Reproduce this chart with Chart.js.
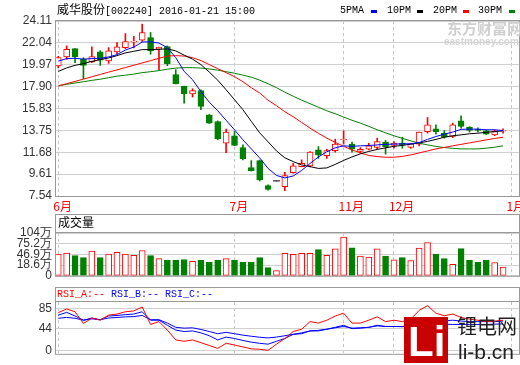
<!DOCTYPE html>
<html>
<head>
<meta charset="utf-8">
<script src="https://cdn.jsdelivr.net/npm/chart.js@4.4.0/dist/chart.umd.min.js"></script>
<style>
  body { margin: 0; background: #fff; width: 520px; height: 365px; position: relative; overflow: hidden; }
  canvas { position: absolute; left: 0; }
  .t { position: absolute; white-space: pre; line-height: 14px; }
  .mono { font-family: "Liberation Mono", monospace; font-size: 10px; }
  .cjk { font-family: "Noto Sans CJK SC", sans-serif; }
  .sw { position: absolute; width: 6px; height: 3px; top: 10px; }
</style>
</head>
<body>
<canvas id="main" width="520" height="212" style="top:0"></canvas>
<canvas id="vol" width="520" height="73" style="top:214px"></canvas>
<canvas id="rsi" width="520" height="78" style="top:287px"></canvas>

<!-- 标题和图例 -->
<div class="t" style="left:57px;top:2px;color:#000"><span class="cjk" style="font-size:12px">威华股份</span><span class="mono">[002240] 2016-01-21 15:00</span></div>
<div class="t mono" style="left:340px;top:4px">5PMA</div><div class="sw" style="left:371px;background:#0000ff"></div>
<div class="t mono" style="left:387px;top:4px">10PM</div><div class="sw" style="left:417px;background:#000"></div>
<div class="t mono" style="left:433px;top:4px">20PM</div><div class="sw" style="left:463px;background:#ff0000"></div>
<div class="t mono" style="left:478px;top:4px">30PM</div><div class="sw" style="left:509px;background:#008000"></div>

<!-- 水印 -->
<div class="t cjk" style="left:447px;top:21px;font-size:15px;font-weight:bold;color:#cfcfcf">东方财富网</div>
<div class="t" style="left:444px;top:35px;font-family:'Liberation Sans';font-size:10px;font-weight:bold;color:#d4d4d4">eastmoney.com</div>

<div class="t cjk" style="left:58px;top:215px;font-size:12px;color:#000">成交量</div>
<div class="t mono" style="left:57px;top:288px"><span style="color:#ff0000">RSI_A:--</span> <span style="color:#0000ff">RSI_B:--</span> <span style="color:#0000ff">RSI_C:--</span></div>

<div style="position:absolute;left:404px;top:317px;width:44px;height:46px;background:#c80000"></div>
<div class="t" style="left:408px;top:322px;line-height:40px;font-family:'Liberation Sans';font-size:42px;font-weight:bold;color:#fff">Li</div>
<div class="t cjk" style="left:457px;top:314px;line-height:24px;font-size:20px;color:#222">锂电网</div>
<div class="t" style="left:458px;top:340px;line-height:24px;font-family:'Liberation Sans';font-size:21px;color:#222">li-b.cn</div>

<script>
// 月份分界（K线序号）
const monthIdx = [0, 21, 34, 40, 54];
const monthLabels = ['6月', '7月', '11月', '12月', '1月'];

const priceTicks = [7.54, 9.61, 11.68, 13.75, 15.83, 17.90, 19.97, 22.04, 24.11];
// 成交量刻度：底部刻度标为 0
const volTicks = [-9.7, 18.6, 46.9, 75.2, 103.5];
const volTickLabels = ['0', '18.6万', '46.9万', '75.2万', '104万'];
const rsiTicks = [0, 44, 85];

// K线
const openP  = [19.86, 20.71, 21.50, 20.48, 20.26, 21.19, 20.33, 21.19, 21.59, 22.10,
                22.29, 22.54, 21.47, 21.69, 19.03, 17.92, 17.20, 17.51, 15.23, 14.59,
                12.54, 13.24, 12.13, 10.23, 10.89, 8.52, 8.97, 8.42, 9.75, 10.32,
                10.39, 11.91, 11.37, 11.84, 12.86, 12.45, 11.75, 11.97, 12.13, 12.64,
                12.32, 12.54, 12.13, 12.45, 13.64, 13.90, 13.49, 13.17, 14.66, 14.06,
                13.87, 13.71, 13.33, 13.67];
const highP  = [20.77, 21.75, 21.50, 20.64, 21.66, 21.30, 21.59, 22.07, 22.92, 22.67,
                23.81, 23.02, 21.65, 21.75, 19.50, 17.95, 17.70, 17.60, 15.25, 14.65,
                13.87, 13.64, 12.38, 10.89, 10.95, 8.60, 8.97, 9.79, 10.64, 10.96,
                11.75, 12.22, 11.97, 12.92, 13.71, 12.64, 12.12, 12.54, 13.02, 12.80,
                12.70, 13.11, 12.50, 13.60, 14.97, 14.28, 13.74, 14.44, 15.14, 14.10,
                13.99, 13.80, 13.80, 13.90];
const lowP   = [19.67, 20.48, 20.17, 18.65, 20.17, 19.91, 20.10, 21.02, 21.50, 21.56,
                22.16, 20.96, 19.50, 19.88, 18.15, 16.34, 16.91, 15.71, 14.40, 12.86,
                11.65, 12.30, 10.96, 9.90, 8.96, 8.10, 8.97, 8.04, 9.70, 10.30,
                10.30, 11.10, 11.10, 11.69, 12.45, 11.69, 11.60, 11.90, 12.00, 11.50,
                12.07, 12.07, 12.05, 12.29, 13.49, 13.40, 13.02, 13.07, 13.97, 13.59,
                13.60, 13.35, 13.25, 13.49];
const closeP = [20.64, 21.43, 20.71, 19.91, 20.74, 20.39, 21.28, 21.66, 22.16, 22.20,
                23.02, 21.28, 21.62, 20.07, 18.15, 17.22, 17.51, 16.02, 14.44, 12.95,
                13.59, 12.32, 11.05, 9.94, 9.06, 8.17, 8.97, 9.47, 10.39, 10.64,
                11.69, 11.43, 11.84, 12.45, 12.92, 11.97, 11.97, 12.29, 12.70, 12.22,
                12.54, 12.38, 12.48, 13.59, 14.28, 13.64, 13.11, 14.28, 14.12, 13.74,
                13.74, 13.40, 13.64, 13.74];

// 均线
const ma5  = [20.31, 20.55, 20.58, 20.50, 20.55, 20.58, 20.71, 20.93, 21.36, 21.64,
              22.12, 22.14, 22.02, 21.59, 20.64, 19.34, 18.55, 17.42, 16.42, 15.61,
              14.71, 13.81, 12.86, 12.00, 11.15, 10.15, 9.49, 9.25, 9.44, 9.96,
              10.62, 11.24, 11.72, 12.10, 12.29, 12.24, 12.29, 12.32, 12.38, 12.43,
              12.45, 12.48, 12.48, 12.60, 12.90, 13.17, 13.40, 13.59, 13.85, 13.87,
              13.87, 13.81, 13.81, 13.74];
const ma10 = [19.34, 19.67, 19.91, 20.07, 20.29, 20.45, 20.61, 20.83, 21.09, 21.24,
              21.40, 21.40, 21.43, 21.47, 21.28, 20.88, 20.50, 19.98, 19.27, 18.51,
              17.60, 16.66, 15.71, 14.61, 13.52, 12.67, 11.81, 11.15, 10.80, 10.48,
              10.32, 10.15, 10.20, 10.53, 10.91, 11.24, 11.53, 11.76, 11.95, 12.10,
              12.24, 12.33, 12.45, 12.57, 12.71, 12.90, 13.11, 13.24, 13.33, 13.43,
              13.49, 13.57, 13.64, 13.71];
const ma20 = [17.96, 18.18, 18.39, 18.61, 18.83, 19.05, 19.27, 19.48, 19.70, 19.92,
              20.14, 20.36, 20.58, 20.79, 20.83, 20.79, 20.64, 20.36, 19.98, 19.60,
              19.22, 18.84, 18.36, 17.79, 17.29, 16.61, 16.09, 15.52, 15.04, 14.50,
              13.97, 13.47, 13.02, 12.62, 12.24, 11.91, 11.62, 11.38, 11.27, 11.21,
              11.21, 11.29, 11.43, 11.62, 11.81, 12.00, 12.14, 12.29, 12.43, 12.57,
              12.71, 12.86, 12.98, 13.11];
const ma30 = [17.98, 18.11, 18.24, 18.36, 18.49, 18.60, 18.74, 18.89, 18.98, 19.08,
              19.22, 19.31, 19.41, 19.55, 19.65, 19.69, 19.69, 19.65, 19.57, 19.46,
              19.31, 19.17, 18.98, 18.79, 18.51, 18.17, 17.80, 17.37, 16.99, 16.61,
              16.28, 15.94, 15.61, 15.33, 15.01, 14.71, 14.44, 14.14, 13.81, 13.52,
              13.24, 13.00, 12.76, 12.54, 12.38, 12.24, 12.13, 12.05, 12.00, 12.00,
              12.00, 12.07, 12.16, 12.29];

// 成交量（万手）
const volume = [47.7, 50.1, 43.7, 38.2, 55.6, 38.2, 47.7, 52.5, 47.7, 44.6,
                57.3, 43.7, 35.8, 31.7, 31.7, 33.4, 28.6, 31.7, 26.2, 31.7,
                35.8, 31.7, 26.2, 26.2, 38.2, 11.8, 3.9, 49.4, 47.0, 49.4,
                49.4, 59.7, 44.6, 61.4, 92.5, 64.5, 42.2, 39.8, 61.4, 42.2,
                32.7, 38.2, 30.3, 63.8, 78.1, 47.7, 35.8, 20.7, 62.1, 31.7,
                26.2, 31.7, 25.5, 13.5];

// RSI
const rsiA = [76.5, 83.8, 78.2, 54.3, 65.5, 61.1, 71.4, 73.6, 78.2, 79.9,
              87.8, 52.5, 58.2, 41.1, 21.1, 18.4, 21.1, 15.5, 9.8, 4.0,
              14.3, 10.8, 6.9, 3.0, 2.1, 0.0, 12.5, 24.0, 38.2, 42.8,
              58.2, 55.3, 61.1, 69.6, 75.3, 55.3, 55.3, 61.1, 67.9, 58.2,
              61.1, 58.2, 63.3, 80.9, 90.7, 75.3, 70.2, 73.6, 66.7, 63.3,
              61.1, 58.2, 59.4, 61.1];
const rsiB = [71.4, 77.0, 69.6, 61.1, 65.5, 62.1, 69.6, 70.7, 72.4, 73.6,
              78.2, 61.1, 61.1, 50.8, 41.1, 38.2, 39.4, 35.5, 29.6, 21.1,
              26.9, 24.0, 20.1, 16.6, 14.3, 12.5, 18.4, 24.0, 32.5, 33.7,
              39.4, 39.4, 42.8, 46.7, 50.8, 44.0, 45.0, 46.7, 50.8, 48.4,
              48.4, 48.4, 50.5, 54.8, 60.8, 61.1, 59.9, 61.1, 59.4, 58.2,
              58.2, 58.2, 58.2, 59.4];
const rsiC = [65.0, 66.7, 65.0, 61.1, 63.8, 62.1, 65.5, 66.7, 67.9, 68.4,
              70.7, 62.1, 62.1, 55.3, 46.7, 45.0, 45.7, 42.3, 38.2, 33.7,
              36.5, 33.7, 30.8, 28.6, 26.6, 25.2, 26.9, 29.6, 32.5, 35.5,
              39.4, 40.6, 42.8, 45.7, 48.4, 45.0, 45.7, 46.7, 49.6, 48.4,
              48.4, 47.9, 49.6, 53.1, 55.6, 54.8, 53.1, 52.5, 52.5, 52.5,
              52.5, 52.5, 53.1, 53.6];

const UP = '#ff0000', DOWN = '#008000';
const X_MIN = -0.27, X_MAX = 54.9;
const isUp = i => closeP[i] >= openP[i];
const fillCol = closeP.map((c, i) => isUp(i) ? '#ffffff' : DOWN);
const lineCol = closeP.map((c, i) => isUp(i) ? UP : DOWN);
const tickFont = { family: 'Liberation Sans', size: 12 };

Chart.defaults.animation = false;

function xAxis(h) {
  return {
    type: 'linear', min: X_MIN, max: X_MAX, offset: false,
    afterBuildTicks: ax => { ax.ticks = monthIdx.map(v => ({ value: v })); },
    afterFit: ax => { ax.height = h; },
    ticks: { display: false },
    grid: { color: '#c4c4c4', drawTicks: false, offset: false },
    border: { display: false, dash: [3, 3] }
  };
}

function yAxis(min, max, ticks, labels) {
  return {
    min: min, max: max,
    afterBuildTicks: ax => { ax.ticks = ticks.map(v => ({ value: v })); },
    afterFit: ax => { ax.width = 56; },
    ticks: { font: tickFont, color: '#333', padding: 4, autoSkip: false, callback: (v, i) => labels[i] },
    grid: { color: '#d0d0d0', drawTicks: false },
    border: { display: false }
  };
}

// 边框 + 分隔线
const framePlugin = {
  id: 'frame',
  afterDraw(chart, args, opts) {
    const { ctx, chartArea: a } = chart;
    const top = opts.panel ? 0.5 : a.top - 0.5;
    ctx.save();
    ctx.strokeStyle = '#999';
    ctx.lineWidth = 1;
    ctx.strokeRect(a.left - 0.5, top, a.right - a.left + 1, a.bottom + 0.5 - top);
    if (opts.panel) {
      ctx.beginPath();
      ctx.moveTo(a.left, a.top - 0.5);
      ctx.lineTo(a.right, a.top - 0.5);
      ctx.stroke();
    }
    if (opts.months) {
      ctx.fillStyle = '#ff0000';
      ctx.font = '12px "Noto Sans CJK SC"';
      ctx.textBaseline = 'middle';
      monthIdx.forEach((m, k) => {
        ctx.fillText(monthLabels[k], chart.scales.x.getPixelForValue(m) - 5, a.bottom + 10);
      });
    }
    ctx.restore();
  }
};

const pts = arr => arr.map((v, i) => ({ x: i, y: v }));
const maLine = (arr, color) => ({
  type: 'line', data: pts(arr), borderColor: color, borderWidth: 1,
  pointRadius: 0, tension: 0, order: 1
});

const baseOpts = {
  responsive: false,
  plugins: { legend: { display: false }, tooltip: { enabled: false } }
};

// 主图
new Chart(document.getElementById('main'), {
  type: 'bar',
  data: {
    datasets: [
      maLine(ma5, '#0000ff'), maLine(ma10, '#000000'), maLine(ma20, '#ff0000'), maLine(ma30, '#008000'),
      {
        type: 'bar', data: openP.map((o, i) => ({ x: i, y: [o, closeP[i]] })),
        backgroundColor: fillCol, borderColor: lineCol, borderWidth: 1, borderSkipped: false,
        barThickness: 6, grouped: false, order: 2
      },
      {
        type: 'bar', data: lowP.map((l, i) => ({ x: i, y: [l, highP[i]] })),
        backgroundColor: lineCol, barThickness: 1, grouped: false, order: 3
      },
      {
        // 一字板
        type: 'scatter',
        data: closeP.map((c, i) => ({ x: i, y: c })).filter(p => openP[p.x] === closeP[p.x]),
        pointStyle: 'line', radius: 3.5, borderColor: '#000', borderWidth: 1, order: 0
      }
    ]
  },
  options: {
    ...baseOpts,
    layout: { autoPadding: false, padding: { top: 21, right: 1, left: 0, bottom: 0 } },
    scales: {
      x: xAxis(16),
      y: yAxis(7.54, 24.11, priceTicks, priceTicks.map(v => v.toFixed(2)))
    },
    plugins: { ...baseOpts.plugins, frame: { months: true } }
  },
  plugins: [framePlugin]
});

// 成交量
new Chart(document.getElementById('vol'), {
  type: 'bar',
  data: {
    datasets: [{
      data: pts(volume), base: volTicks[0],
      backgroundColor: fillCol, borderColor: lineCol, borderWidth: 1, borderSkipped: false,
      barThickness: 6, grouped: false
    }]
  },
  options: {
    ...baseOpts,
    layout: { autoPadding: false, padding: { top: 19, right: 1, left: 0, bottom: 0 } },
    scales: { x: xAxis(7), y: yAxis(volTicks[0], 103.5, volTicks, volTickLabels) },
    plugins: { ...baseOpts.plugins, frame: { panel: true } }
  },
  plugins: [framePlugin]
});

// RSI
new Chart(document.getElementById('rsi'), {
  type: 'line',
  data: {
    datasets: [
      maLine(rsiA, '#ff0000'), maLine(rsiB, '#0000ff'), maLine(rsiC, '#0000ff')
    ]
  },
  options: {
    ...baseOpts,
    layout: { autoPadding: false, padding: { top: 15, right: 1, left: 0, bottom: 0 } },
    scales: { x: xAxis(2), y: yAxis(-7, 98, rsiTicks, rsiTicks.map(String)) },
    plugins: { ...baseOpts.plugins, frame: { panel: true } }
  },
  plugins: [framePlugin]
});
</script>
</body>
</html>
